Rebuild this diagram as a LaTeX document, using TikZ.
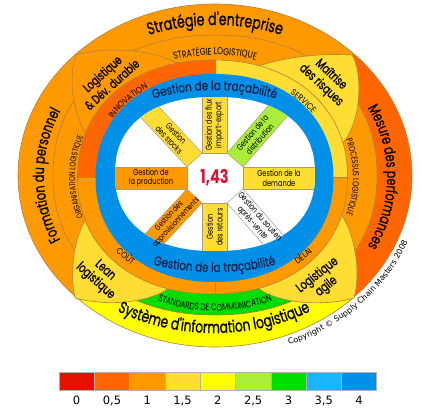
\documentclass[tikz,border=0pt]{standalone}
\usepackage{fontspec}
\usetikzlibrary{decorations.text}
\newfontfamily\fut[FakeStretch=0.76]{Poppins}
\newfontfamily\futm[FakeStretch=0.74,FakeBold=0.8]{Poppins}
\newfontfamily\futg[FakeStretch=0.8,FakeBold=0.4]{Poppins}
\newfontfamily\futw[FakeStretch=0.9]{Poppins}
\newfontfamily\dvs{DejaVu Sans}
\definecolor{orA}{HTML}{FF9900}
\definecolor{orB}{HTML}{FF6600}
\definecolor{yelA}{HTML}{FFFF00}
\definecolor{yelB}{HTML}{FFDD33}
\definecolor{grA}{HTML}{00DD00}
\definecolor{grB}{HTML}{AAEE3A}
\definecolor{bluA}{HTML}{0090E8}
\definecolor{bluB}{HTML}{1BB5FF}
\definecolor{redA}{HTML}{E31200}
\definecolor{linec}{HTML}{B08040}
\definecolor{boxl}{HTML}{A89C80}
\definecolor{navyc}{HTML}{141E46}
\definecolor{numred}{HTML}{DD1133}
\newcommand\sqe[5]{plot[domain=1:361,samples=181,variable=\ang]({#1+#3*cos(\ang)*pow(abs(cos(\ang)),2/#5-1)},{#2+#4*sin(\ang)*pow(abs(sin(\ang)),2/#5-1)}) -- cycle}
\begin{document}
\begin{tikzpicture}[x=1pt,y=1pt]
\tikzset{
 bline/.style={draw=linec,line width=0.6pt},
 spoke/.style={draw=boxl,line width=0.5pt},
 boxtxt/.style={font=\fut\fontsize{8.7}{9.6}\selectfont,align=center,inner sep=0pt},
 pettxt/.style={font=\futm\fontsize{13}{14.5}\selectfont,align=center,inner sep=0pt},
 legbox/.style={draw=gray!60,line width=0.5pt},
}
\fill[white] (0,0) rectangle (423,-407);
\useasboundingbox (0,0) rectangle (423,-407);
% ---------- outer bands
\begin{scope}
\clip (215,-175.5) ellipse [x radius=197, y radius=171.5];
\fill[orA] (215,-175.5) -- (-202,186) -- (626,186) -- cycle;
\fill[orB] (215,-175.5) -- (626,186) -- (632,-543) -- cycle;
\fill[yelA] (215,-175.5) -- (632,-543) -- (-205,-543) -- cycle;
\fill[orA] (215,-175.5) -- (-205,-543) -- (-202,186) -- cycle;
\end{scope}
\draw[bline] (215,-175.5) ellipse [x radius=197, y radius=171.5];
% ---------- middle bands
\fill[orA] \sqe{215}{-175}{162}{140}{2.15};
\begin{scope}
\clip \sqe{215}{-175}{162}{140}{2.15};
\fill[grA] (215,-175.5) -- (632,-543) -- (-205,-543) -- cycle;
\end{scope}
\draw[bline] \sqe{215}{-175}{162}{140}{2.15};
% ---------- petals
\filldraw[bline,fill=orA] (90,-140) .. controls (72,-115) and (68,-78) .. (76,-55) .. controls (105,-47) and (150,-47) .. (185,-67) -- cycle;
\filldraw[bline,fill=yelB] (255,-67) .. controls (285,-57) and (320,-53) .. (352,-55) .. controls (362,-70) and (364,-125) .. (338,-148) -- cycle;
\filldraw[bline,fill=yelB] (338,-210) .. controls (356,-232) and (361,-275) .. (354,-298) .. controls (328,-306) and (280,-305) .. (258,-288) -- cycle;
\filldraw[bline,fill=yelB] (90,-212) .. controls (74,-235) and (69,-270) .. (75,-298) .. controls (105,-306) and (145,-304) .. (168,-289) -- cycle;
% ---------- inner ring
\begin{scope}
\clip \sqe{212.5}{-177}{135}{117}{2.15};
\fill[orB] (0,-177) rectangle (215,0);
\fill[yelB] (215,-177) rectangle (423,0);
\fill[orA] (215,-177) rectangle (423,-407);
\fill[orA] (0,-177) rectangle (215,-407);
\draw[bline] (215,0) -- (215,-407);
\draw[bline] (0,-177) -- (423,-177);
\end{scope}
\draw[bline] \sqe{212.5}{-177}{135}{117}{2.15};
% ---------- blue ring and white disc
\fill[bluA] \sqe{214.5}{-178}{119}{104}{2.15};
\fill[white] \sqe{215}{-174}{100}{77}{2.3};
% ---------- spokes
\begin{scope}
\clip \sqe{215}{-174}{100}{77}{2.3};
\filldraw[spoke,fill=yelB] (202,-153) rectangle (227,-80);
\filldraw[spoke,fill=yelB] (202,-203) rectangle (227,-265);
\filldraw[spoke,fill=orA] (187,-167) rectangle (105,-189);
\filldraw[spoke,fill=yelB] (243,-167) rectangle (325,-189);
\filldraw[spoke,fill=yelB] (187,-167) -- (202,-153) -- (147.4,-94.5) -- (132.4,-108.5) -- cycle;
\filldraw[spoke,fill=grB] (227,-153) -- (243,-167) -- (295.6,-106.8) -- (279.6,-92.8) -- cycle;
\filldraw[spoke,fill=orA] (187,-189) -- (202,-203) -- (147.4,-261.5) -- (132.4,-247.5) -- cycle;
\filldraw[spoke,fill=white] (227,-203) -- (243,-189) -- (295.6,-249.2) -- (279.6,-263.2) -- cycle;
\end{scope}
% ---------- outer band texts
\path[decorate,decoration={text along path,text align=center,text={|\futm\fontsize{17}{17}\selectfont|Stratégie d'entreprise}}] (215,-175.5) ++(150:185 and 150.5) arc[start angle=150,end angle=30,x radius=185,y radius=150.5];
\path[decorate,decoration={text along path,text align=center,text={|\futm\fontsize{15.2}{15.2}\selectfont|Formation du personnel}}] (215,-175.5) ++(225:171 and 150) arc[start angle=225,end angle=135,x radius=171,y radius=150];
\path[decorate,decoration={text along path,text align=center,text={|\futm\fontsize{15}{15}\selectfont|Mesure des performances}}] (215,-177) ++(45:172 and 150) arc[start angle=45,end angle=-45,x radius=172,y radius=150];
\path[decorate,decoration={text along path,text align=center,text={|\futm\fontsize{16.5}{16.5}\selectfont|Système d'information logistique}}] (214,-175.5) ++(215:190 and 157.5) arc[start angle=215,end angle=325,x radius=190,y radius=157.5];
% ---------- middle band texts
\path[decorate,decoration={text along path,text align=center,text={|\fut\fontsize{10}{10}\selectfont|STRATÉGIE LOGISTIQUE}}] (215,-176) ++(135:145 and 121) arc[start angle=135,end angle=45,x radius=145,y radius=121];
\path[decorate,decoration={text along path,text align=center,text={|\fut\fontsize{8.7}{8.7}\selectfont|PROCESSUS LOGISTIQUE}}] (215,-177) ++(40:138 and 120) arc[start angle=40,end angle=-40,x radius=138,y radius=120];
\path[decorate,decoration={text along path,text align=center,text={|\fut\fontsize{8.3}{8.3}\selectfont|ORGANISATION LOGISTIQUE}}] (215,-177) ++(220:140 and 120) arc[start angle=220,end angle=140,x radius=140,y radius=120];
\path[decorate,decoration={text along path,text align=center,text={|\fut\fontsize{9.5}{9.5}\selectfont|STANDARDS DE COMMUNICATION}}] (215,-176) ++(235:150 and 135) arc[start angle=235,end angle=305,x radius=150,y radius=135];
% ---------- inner ring texts
\path[decorate,decoration={text along path,text align=center,text={|\futw\fontsize{8.6}{8.6}\selectfont|INNOVATION}}] (214.5,-178) ++(158:122.5 and 107) arc[start angle=158,end angle=112,x radius=122.5,y radius=107];
\path[decorate,decoration={text along path,text align=center,text={|\futw\fontsize{8.6}{8.6}\selectfont|SERVICE}}] (214.5,-178) ++(64:122.5 and 107) arc[start angle=64,end angle=24,x radius=122.5,y radius=107];
\path[decorate,decoration={text along path,text align=center,text={|\futw\fontsize{8.6}{8.6}\selectfont|DÉLAI}}] (214.5,-178) ++(-65:129.6 and 113) arc[start angle=-65,end angle=-25,x radius=129.6,y radius=113];
\path[decorate,decoration={text along path,text align=center,text={|\futw\fontsize{8.6}{8.6}\selectfont|COÛT}}] (214.5,-178) ++(205:129.6 and 113) arc[start angle=205,end angle=245,x radius=129.6,y radius=113];
% ---------- blue ring texts
\path[decorate,decoration={text along path,text align=center,text={|\futg\fontsize{13}{13}\selectfont\color{navyc}|Gestion de la traçabilité}}] (214.5,-177) ++(150:140 and 87) arc[start angle=150,end angle=30,x radius=140,y radius=87];
\path[decorate,decoration={text along path,text align=center,text={|\futg\fontsize{13}{13}\selectfont\color{navyc}|Gestion de la traçabilité}}] (214.5,-198) ++(235:140 and 74) arc[start angle=235,end angle=305,x radius=140,y radius=74];
% ---------- spoke texts
\node[boxtxt,rotate=90] (tflux) at (214.5,-125) {Gestion des flux\\import-export};
\node[boxtxt,rotate=90] (tret) at (214.5,-227) {Gestion\\des retours};
\node[boxtxt] (tprod) at (151,-178) {Gestion de\\la production};
\node[boxtxt] (tdem) at (279,-178) {Gestion de la\\demande};
\node[boxtxt,rotate=-47] (tsto) at (172.7,-136.6) {Gestion\\des stocks};
\node[boxtxt,rotate=48.8] (tdis) at (256,-135.9) {Gestion de la\\distribution};
\node[boxtxt,rotate=47,font=\fut\fontsize{8.2}{9.4}\selectfont] (tapp) at (172.7,-219.4) {Gestion des\\approvisionnements};
\node[boxtxt,rotate=-48.8] (tsou) at (256,-220) {Gestion du soutien\\après-vente};
\node[font=\fut\bfseries\fontsize{19}{19}\selectfont,text=numred,inner sep=0pt] (score) at (214.5,-178) {1,43};
% ---------- petal texts
\node[pettxt,rotate=42,font=\futm\fontsize{12.5}{14.5}\selectfont] (pUL) at (107,-79) {Logistique\\\&~Dév. durable};
\node[pettxt,rotate=-43] (pUR) at (326,-80) {Maîtrise\\des risques};
\node[pettxt,rotate=-42] (pLL) at (100,-276) {Lean\\logistique};
\node[pettxt,rotate=38] (pLR) at (322,-281) {Logistique\\agile};
% ---------- copyright
\path[decorate,decoration={text along path,text align=center,text={|\dvs\fontsize{8}{8}\selectfont|Copyright © Supply Chain Masters 2008}}] (215,-175.5) ++(-73:207 and 181.5) arc[start angle=-73,end angle=-17,x radius=207,y radius=181.5];
% ---------- legend
\foreach \c [count=\i from 0] in {redA,orB,orA,yelB,yelA,grB,grA,bluB,bluA}{
  \filldraw[legbox,fill=\c] ({59+35.3*\i},-372.3) rectangle ({59+35.3*(\i+1)},-390);
}
\foreach \l [count=\i from 0] in {0,{0,5},1,{1,5},2,{2,5},3,{3,5},4}{
  \node[anchor=base,inner sep=0pt,font=\dvs\fontsize{11.5}{12}\selectfont] (lab\i) at ({59+35.3*\i+17.65},-404) {\l};
}
\end{tikzpicture}
\end{document}
